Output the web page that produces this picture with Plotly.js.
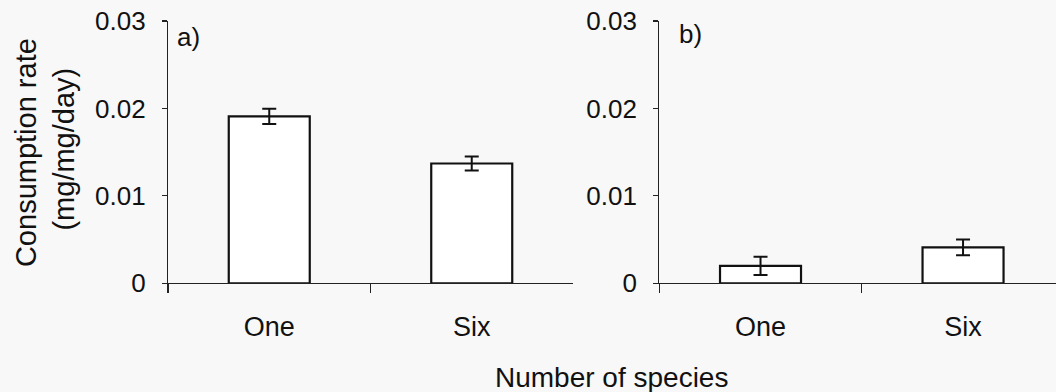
<!DOCTYPE html>
<html>
<head>
<meta charset="utf-8">
<script src="https://cdn.plot.ly/plotly-3.0.1.min.js"></script>
<style>
  html, body { margin: 0; padding: 0; background: #f8f8f8; overflow: hidden; }
  #chart { width: 1056px; height: 392px; }
</style>
</head>
<body>
<div id="chart"></div>
<script>
// Species richness treatments
const species = ['One', 'Six'];

// Panel a) consumption rate (mg/mg/day) and standard errors
const rateA = [0.0191, 0.0137];
const errA = [0.00087, 0.0008];

// Panel b) consumption rate (mg/mg/day) and standard errors
const rateB = [0.0020, 0.0041];
const errB = [0.00105, 0.0009];

const FONT = 'Liberation Sans, Arial, Helvetica, sans-serif';
const INK = '#111111';
const AXIS = '#222222';

function barTrace(y, err, xa, ya) {
  return {
    type: 'bar',
    x: species,
    y: y,
    xaxis: xa,
    yaxis: ya,
    width: 0.4,
    marker: { color: '#ffffff', line: { color: INK, width: 2.2 } },
    error_y: { type: 'data', array: err, visible: true, color: INK, thickness: 2, width: 7 },
    hoverinfo: 'skip'
  };
}

const xBase = {
  type: 'category',
  categoryorder: 'array',
  categoryarray: species,
  tickson: 'boundaries',
  ticks: 'outside',
  ticklen: 9,
  tickwidth: 1.2,
  tickcolor: AXIS,
  showline: true,
  linecolor: AXIS,
  linewidth: 1.2,
  showgrid: false,
  zeroline: false,
  tickfont: { family: FONT, size: 27, color: INK },
  ticklabelstandoff: 19,
  fixedrange: true
};

const yBase = {
  range: [0, 0.03],
  tick0: 0,
  dtick: 0.01,
  ticks: 'outside',
  ticklen: 5,
  tickwidth: 1.2,
  tickcolor: AXIS,
  showline: true,
  linecolor: AXIS,
  linewidth: 1.2,
  showgrid: false,
  zeroline: false,
  tickfont: { family: FONT, size: 26, color: INK },
  ticklabelstandoff: 11,
  domain: [0.2773, 0.9464],
  fixedrange: true
};

function label(text, x, y, size, angle) {
  return {
    text: text, xref: 'paper', yref: 'paper', x: x, y: y,
    xanchor: 'center', yanchor: 'middle', showarrow: false,
    textangle: angle || 0,
    font: { family: FONT, size: size, color: INK }
  };
}

const layout = {
  width: 1056,
  height: 392,
  margin: { l: 0, r: 0, t: 0, b: 0 },
  paper_bgcolor: '#f8f8f8',
  plot_bgcolor: 'rgba(0,0,0,0)',
  showlegend: false,
  font: { family: FONT, color: INK },
  xaxis: Object.assign({}, xBase, { domain: [0.1591, 0.5426], range: [-0.5, 1.5], anchor: 'y' }),
  xaxis2: Object.assign({}, xBase, { domain: [0.6243, 1], range: [-0.5, 1.459], anchor: 'y2' }),
  yaxis: Object.assign({}, yBase, { anchor: 'x' }),
  yaxis2: Object.assign({}, yBase, { anchor: 'x2' }),
  annotations: [
    label('Consumption rate', 0.0246, 0.612, 29, -90),
    label('(mg/mg/day)', 0.0606, 0.621, 29, -90),
    label('Number of species', 0.579, 0.036, 28),
    label('a)', 188 / 1056, 1 - 36.5 / 392, 26),
    label('b)', 690 / 1056, 1 - 34 / 392, 26)
  ]
};

Plotly.newPlot('chart', [
  barTrace(rateA, errA, 'x', 'y'),
  barTrace(rateB, errB, 'x2', 'y2')
], layout, { staticPlot: true, displayModeBar: false });
</script>
</body>
</html>
